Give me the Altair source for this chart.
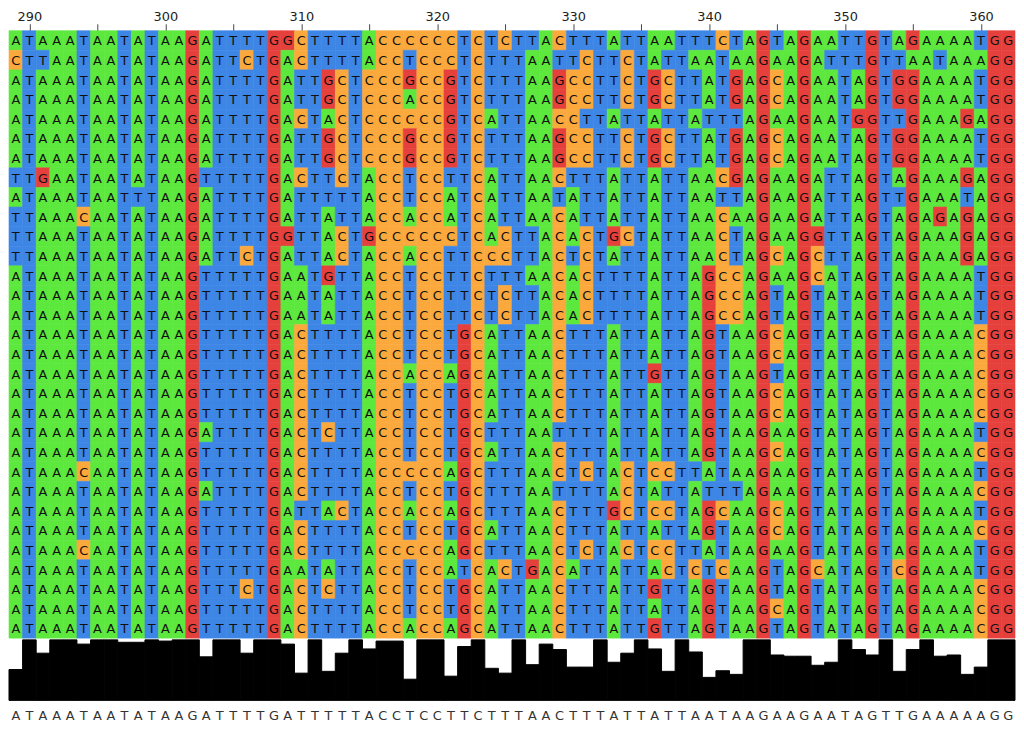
import altair as alt
import pandas as pd

START = 289

sequences = [
    "ATAAATAATATAAGATTTTGGCTTTTACCCCCCTCT" "CTTACTTTATTAATTTCTAGTAGAATTGTAGAAAATGG",
    "CTTAATAATATAAGATTCTGACTTTTACCTCCCTCT" "TTAATTCTTCTATTAATAAGAAGATTTGTTAATAAAGG",
    "ATAAATAATATAAGATTTTGATTGCTCCCGCCGTCT" "TTAAGCCTTCTGCTTATGAGCAGAATAGTGGAAAATGG",
    "ATAAATAATATAAGATTTTGATTGCTCCCACCGTCT" "TTAAGCCTTCTGCTTATGAGCAGAATAGTGGAAAATGG",
    "ATAAATAATATAAGATTTTGACTACTCCCCCCGTCA" "TTAACCTTATTATTATTTAGAAGAATGGTTGAAAGAGG",
    "ATAAATAATATAAGATTTTGATTGCTCCCGCCGTCT" "TTAAGCCTTCTGCTTATGAGCAGAATAGTGGAAAATGG",
    "ATAAATAATATAAGATTTTGATTGCTCCCGCCGTCT" "TTAAGCCTTCTGCTTATGAGCAGAATAGTGGAAAATGG",
    "TTGAATAATATAAGTTTTTGACTTCTACCTCCTTCA" "TTAACTTTATTATTAACGAGAAGATTAGTAGAAAGAGG",
    "ATAAATAATTTAAGATTTTGATTTTTACCTCCATCA" "TTAATATTATTATTAATTAGAAGATTAGTTGAAATAGG",
    "TTAAACAATATAAGATTTTGATTATTACCACCATCA" "TTAACATTATTATTAACAAGAAGATTAGTAGAGAGAGG",
    "TTAAATAATATAAGATTTTGGTTACTGCCCCCCTCA" "CTTACACTGCTATTAACTAGAAGGTTAGTAGAAAGAGG",
    "TTAAATAATATAAGATTCTGATTACTACCACCTTCC" "CTTACTCTATTATTAACTAGCAGCTTAGTAGAAAGAGG",
    "ATAAATAATATAAGTTTTTGAATGTTACCTCCTTCT" "TTAACACTTTTATTAGCCAGAAGCATAGTAGAAAATGG",
    "ATAAATAATATAAGTTTTTGAATATTACCTCCTTCT" "CTTACACTTTTATTAGCCAGTAGTATAGTAGAAAATGG",
    "ATAAATAATATAAGTTTTTGAATATTACCTCCTTCT" "CTTACACTTTTATTAGCCAGTAGTATAGTAGAAAATGG",
    "ATAAATAATATAAGTTTTTGACTTTTACCTCCTGCA" "TTAACTTTATTATTAGTAAGCAGTATAGTAGAAAACGG",
    "ATAAATAATATAAGTTTTTGACTTTTACCTCCTGCA" "TTAACTTTATTATTAGTAAGCAGTATAGTAGAAAACGG",
    "ATAAATAATATAAGTTTTTGACTTTTACCACCAGCA" "TTAACTTTATTGTTAGTAAGTAGTATAGTAGAAAACGG",
    "ATAAATAATATAAGTTTTTGACTTTTACCTCCTGCA" "TTAACTTTATTATTAGTAAGCAGTATAGTAGAAAACGG",
    "ATAAATAATATAAGTTTTTGACTTTTACCTCCTGCA" "TTAACTTTATTATTAGTAAGCAGTATAGTAGAAAACGG",
    "ATAAATAATATAAGATTTTGACTCTTACCTCCTGCT" "TTAATTTTATTATTAGTAAGAAGTATAGTAGAAAATGG",
    "ATAAATAATATAAGTTTTTGACTTTTACCTCCTGCA" "TTAACTTTATTATTAGTAAGCAGTATAGTAGAAAACGG",
    "ATAAACAATATAAGTTTTTGACTTTTACCCCCAGCT" "TTAACTCTACTCCTTATAAGAAGTATAGTAGAAAATGG",
    "ATAAATAATATAAGATTTTGACTTTTACCTCCTGCT" "TTAATTTTACTATTATTTAGAAGTATAGTAGAAAACGG",
    "ATAAATAATATAAGTTTTTGATTACTACCACCAGCT" "TTAACTTTGCTCCTAGCAAGCAGTATAGTAGAAAATGG",
    "ATAAATAATATAAGTTTTTGACTTTTACCTCCTGCA" "TTAACTTTATTATTAGTAAGCAGTATAGTAGAAAACGG",
    "ATAAACAATATAAGTTTTTGACTTTTACCCCCAGCT" "TTAACTCTACTCCTTATAAGAAGTATAGTAGAAAATGG",
    "ATAAATAATATAAGTTTTTGAATATTACCTCCATCA" "CTGACATTATTACTCTCAAGTAGCATAGTCGAAAATGG",
    "ATAAATAATATAAGTTTCTGACTCTTACCTCCTGCA" "TTAACTTTATTGTTAGTAAGTAGTATAGTAGAAAACGG",
    "ATAAATAATATAAGTTTTTGACTTTTACCTCCTGCA" "TTAACTTTATTATTAGTAAGCAGTATAGTAGAAAACGG",
    "ATAAATAATATAAGTTTTTGACTTTTACCACCAGCA" "TTAACTTTATTGTTAGTAAGTAGTATAGTAGAAAACGG",
]

consensus = "ATAAATAATATAAGATTTTGATTTTTACCTCCTTCTTTAACTTTATTATTAATAAGAAGAATAGTTGAAAAAGG"

conservation = [
    0.51, 1.00, 0.78, 1.00, 1.00, 0.93, 1.00, 1.00, 0.96, 0.96,
    1.00, 0.98, 1.00, 1.00, 0.72, 1.00, 1.00, 0.78, 1.00, 1.00,
    0.93, 0.45, 1.00, 0.48, 0.78, 1.00, 0.85, 0.98, 0.98, 0.35,
    1.00, 1.00, 0.40, 0.89, 1.00, 0.53, 0.45, 1.00, 0.59, 0.93,
    0.84, 0.55, 0.55, 1.00, 0.63, 0.78, 1.00, 0.85, 0.48, 1.00,
    0.80, 0.38, 0.49, 0.43, 1.00, 1.00, 0.75, 0.73, 0.73, 0.58,
    0.63, 1.00, 0.84, 0.75, 1.00, 0.48, 0.84, 1.00, 0.73, 0.75,
    0.43, 0.55, 1.00, 1.00,
]

bases = ["A", "T", "G", "C"]
base_colors = ["#5de83d", "#3d86e6", "#e6403d", "#fba93d"]

tick_values = list(range(290, 361, 5))

N = len(consensus)
WIDTH = 1014
ROW_H = 19.75

cells_df = pd.DataFrame(
    [{"row": r, "pos": START + c, "base": b}
     for r, s in enumerate(sequences) for c, b in enumerate(s)]
)
cons_df = pd.DataFrame({"pos": [START + i for i in range(N)], "cons": conservation})
consensus_df = pd.DataFrame({"pos": [START + i for i in range(N)], "base": list(consensus)})

xscale = alt.Scale(domain=[START - 0.5, START + N - 0.5], nice=False, zero=False)
cscale = alt.Scale(domain=bases, range=base_colors)

top_axis = alt.Axis(
    orient="top",
    values=tick_values,
    labelExpr="datum.value % 10 == 0 ? datum.label : ''",
    domain=False,
    grid=False,
    tickSize=7,
    tickColor="#444",
    labelFontSize=13,
    labelFont="DejaVu Sans",
    labelColor="#222",
    labelPadding=0,
    title="",
)

base = alt.Chart(cells_df).transform_calculate(
    x0="datum.pos - 0.5", x1="datum.pos + 0.5"
)

cells = base.mark_rect(strokeWidth=0.6).encode(
    x=alt.X("x0:Q", scale=xscale, axis=top_axis),
    x2="x1:Q",
    y=alt.Y("row:O", axis=None, scale=alt.Scale(paddingInner=0, paddingOuter=0)),
    color=alt.Color("base:N", scale=cscale, legend=None),
    stroke=alt.Stroke("base:N", scale=cscale, legend=None),
)

letters = base.mark_text(font="DejaVu Sans", fontSize=13, color="#111", baseline="middle", dy=1).encode(
    x=alt.X("pos:Q", scale=xscale, axis=top_axis),
    y=alt.Y("row:O", axis=None),
    text="base:N",
)

alignment = alt.layer(cells, letters).properties(width=WIDTH, height=ROW_H * len(sequences))

cons_chart = alt.Chart(cons_df).transform_calculate(
    x0="datum.pos - 0.5", x1="datum.pos + 0.5"
).mark_rect(color="black", stroke="black", strokeWidth=1).encode(
    x=alt.X("x0:Q", scale=xscale, axis=None),
    x2="x1:Q",
    y=alt.Y("cons:Q", scale=alt.Scale(domain=[0, 1], nice=False), axis=None),
    y2=alt.datum(0),
).properties(width=WIDTH, height=61)

consensus_chart = alt.Chart(consensus_df).mark_text(
    font="DejaVu Sans", fontSize=13, color="#333", baseline="middle"
).encode(
    x=alt.X("pos:Q", scale=xscale, axis=None),
    y=alt.value(15),
    text="base:N",
).properties(width=WIDTH, height=30)

chart = alt.vconcat(alignment, cons_chart, consensus_chart, spacing=0).properties(
    padding={"left": 0, "top": 0, "right": 0, "bottom": 0},
    background="white",
).configure_view(strokeWidth=0).configure_concat(spacing=0)

chart.save("out.html", embed_options={"renderer": "svg", "actions": False})
